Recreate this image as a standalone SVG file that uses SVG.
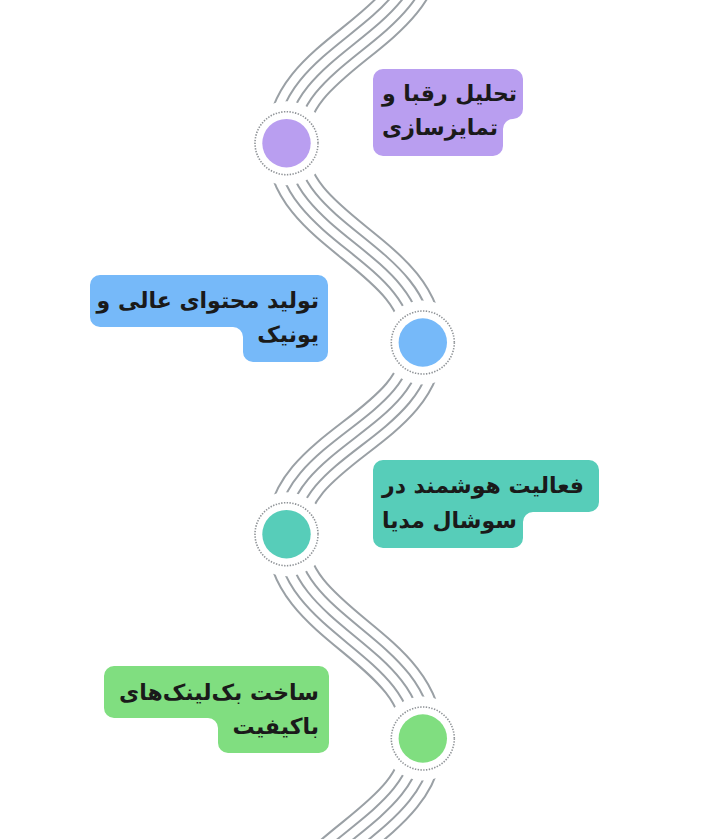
<svg xmlns="http://www.w3.org/2000/svg" xmlns:xlink="http://www.w3.org/1999/xlink" width="708" height="839" viewBox="0 0 708 839">
<style>
.g42{fill:none;stroke:#9aa0a5;stroke-width:42}
.w38{fill:none;stroke:#ffffff;stroke-width:38}
.g22{fill:none;stroke:#9aa0a5;stroke-width:22}
.w18{fill:none;stroke:#ffffff;stroke-width:18}
.g2{fill:none;stroke:#9aa0a5;stroke-width:2}
.cover{fill:#ffffff}
.ring{fill:#ffffff;stroke:#8f9397;stroke-width:1.6;stroke-dasharray:1.4 1.4}
.lbl{font-family:"DejaVu Sans",sans-serif;font-weight:bold;font-size:22px;fill:#1a1a1a}
</style>
<defs>
<path id="wave" d="M 422.8 -56 C 422.8 34, 286.5 53, 286.5 143.2 C 286.5 233, 422.8 253, 422.8 342.5 C 422.8 429, 286.5 447, 286.5 534.2 C 286.5 626, 422.8 646, 422.8 738.5 C 422.8 828, 286.5 848, 286.5 938"/>
</defs>
<g id="connectors">
<use xlink:href="#wave" class="g42"/>
<use xlink:href="#wave" class="w38"/>
<use xlink:href="#wave" class="g22"/>
<use xlink:href="#wave" class="w18"/>
<use xlink:href="#wave" class="g2"/>
</g>
<g id="node1">
<circle class="cover" cx="286.5" cy="143.2" r="42"/>
<circle class="ring" cx="286.5" cy="143.2" r="31.5"/>
<circle cx="286.5" cy="143.2" r="24.2" fill="#b99ef0"/>
<path d="M 383 69 H 513 A 10 10 0 0 1 523 79 V 109 A 10 10 0 0 1 513 119 A 10 10 0 0 0 503 129 V 146 A 10 10 0 0 1 493 156 H 383 A 10 10 0 0 1 373 146 V 79 A 10 10 0 0 1 383 69 Z" fill="#b99ef0"/>
<text class="lbl" x="382" y="101" direction="rtl" text-anchor="end">تحلیل رقبا و</text>
<text class="lbl" x="382" y="135" direction="rtl" text-anchor="end">تمایزسازی</text>
</g>
<g id="node2">
<circle class="cover" cx="422.8" cy="342.5" r="42"/>
<circle class="ring" cx="422.8" cy="342.5" r="31.5"/>
<circle cx="422.8" cy="342.5" r="24.2" fill="#76b9f9"/>
<path d="M 100 275 H 318 A 10 10 0 0 1 328 285 V 352 A 10 10 0 0 1 318 362 H 253 A 10 10 0 0 1 243 352 V 337 A 10 10 0 0 0 233 327 H 100 A 10 10 0 0 1 90 317 V 285 A 10 10 0 0 1 100 275 Z" fill="#76b9f9"/>
<text class="lbl" x="319" y="308" direction="rtl" text-anchor="start">تولید محتوای عالی و</text>
<text class="lbl" x="319" y="342" direction="rtl" text-anchor="start">یونیک</text>
</g>
<g id="node3">
<circle class="cover" cx="286.5" cy="534.2" r="42"/>
<circle class="ring" cx="286.5" cy="534.2" r="31.5"/>
<circle cx="286.5" cy="534.2" r="24.2" fill="#57cdb9"/>
<path d="M 383 460 H 589 A 10 10 0 0 1 599 470 V 502 A 10 10 0 0 1 589 512 H 533 A 10 10 0 0 0 523 522 V 538 A 10 10 0 0 1 513 548 H 383 A 10 10 0 0 1 373 538 V 470 A 10 10 0 0 1 383 460 Z" fill="#57cdb9"/>
<text class="lbl" x="382" y="493" direction="rtl" text-anchor="end">فعالیت هوشمند در</text>
<text class="lbl" x="382" y="528" direction="rtl" text-anchor="end">سوشال مدیا</text>
</g>
<g id="node4">
<circle class="cover" cx="422.8" cy="738.5" r="42"/>
<circle class="ring" cx="422.8" cy="738.5" r="31.5"/>
<circle cx="422.8" cy="738.5" r="24.2" fill="#80de80"/>
<path d="M 114 666 H 319 A 10 10 0 0 1 329 676 V 743 A 10 10 0 0 1 319 753 H 228 A 10 10 0 0 1 218 743 V 728 A 10 10 0 0 0 208 718 H 114 A 10 10 0 0 1 104 708 V 676 A 10 10 0 0 1 114 666 Z" fill="#80de80"/>
<text class="lbl" x="319" y="700" direction="rtl" text-anchor="start">ساخت بک&#x200C;لینک&#x200C;های</text>
<text class="lbl" x="319" y="734" direction="rtl" text-anchor="start">باکیفیت</text>
</g>
</svg>
